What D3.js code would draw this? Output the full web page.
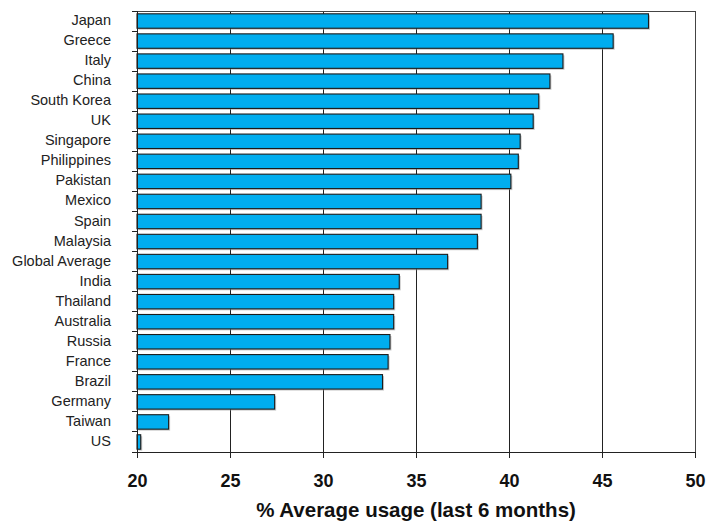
<!DOCTYPE html>
<html>
<head>
<meta charset="utf-8">
<script src="https://cdn.jsdelivr.net/npm/d3@7"></script>
<style>
  html, body { margin: 0; padding: 0; background: #fff; }
  svg { display: block; }
  .cat text { font-family: "Liberation Sans", Arial, sans-serif; font-size: 14.5px; fill: #222; }
  .xax text { font-family: "Liberation Sans", Arial, sans-serif; font-size: 18px; font-weight: bold; fill: #111; }
</style>
</head>
<body>
<svg id="chart" width="706" height="521"></svg>
<script>
// Countries, top to bottom
const countries = [
  "Japan", "Greece", "Italy", "China", "South Korea", "UK", "Singapore",
  "Philippines", "Pakistan", "Mexico", "Spain", "Malaysia", "Global Average",
  "India", "Thailand", "Australia", "Russia", "France", "Brazil", "Germany",
  "Taiwan", "US"
];
// % average usage over the last 6 months
const usage = [
  47.5, 45.6, 42.9, 42.2, 41.6, 41.3, 40.6,
  40.5, 40.1, 38.5, 38.5, 38.3, 36.7,
  34.1, 33.8, 33.8, 33.6, 33.5, 33.2, 27.4,
  21.7, 20.2
];
const xTicks = [20, 25, 30, 35, 40, 45, 50];
const xTitle = "% Average usage (last 6 months)";

const rows = countries.map((c, i) => ({ country: c, value: usage[i] }));

const W = 706, H = 521;
const margin = { top: 11, right: 11, bottom: 69, left: 137 };
const svg = d3.select("#chart");

const x = d3.scaleLinear()
  .domain([20, 50])
  .range([margin.left, W - margin.right]);

const y = d3.scaleBand()
  .domain(countries)
  .range([margin.top, H - margin.bottom])
  .paddingInner(0.28)
  .paddingOuter(0.14);

const plotTop = margin.top, plotBottom = H - margin.bottom;

// vertical gridlines
svg.append("g")
  .selectAll("line")
  .data(xTicks.slice(1, -1))
  .join("line")
  .attr("x1", d => x(d)).attr("x2", d => x(d))
  .attr("y1", plotTop).attr("y2", plotBottom)
  .attr("stroke", "#222").attr("stroke-width", 1)
  .attr("shape-rendering", "crispEdges");

// frame: top and right edges
svg.append("path")
  .attr("d", `M${x(20)},${plotTop}H${x(50)}V${plotBottom}`)
  .attr("fill", "none")
  .attr("stroke", "#444")
  .attr("stroke-width", 1)
  .attr("shape-rendering", "crispEdges");

// bar shadows
svg.append("g")
  .selectAll("rect")
  .data(rows)
  .join("rect")
  .attr("x", x(20) + 1.5)
  .attr("y", d => y(d.country) + 1.5)
  .attr("width", d => x(d.value) - x(20))
  .attr("height", y.bandwidth())
  .attr("fill", "#9a9a9a")
  .attr("opacity", 0.55);

// bars
svg.append("g")
  .selectAll("rect")
  .data(rows)
  .join("rect")
  .attr("x", x(20))
  .attr("y", d => y(d.country))
  .attr("width", d => x(d.value) - x(20))
  .attr("height", y.bandwidth())
  .attr("fill", "#00adef")
  .attr("stroke", "#1b1b1b")
  .attr("stroke-width", 1.1);

// category axis: labels centred on bands, ticks on band boundaries
const yAxis = svg.append("g")
  .attr("class", "cat")
  .attr("transform", `translate(${x(20)},0)`)
  .call(d3.axisLeft(y).tickSize(0).tickPadding(26));
yAxis.select(".domain").remove();
yAxis.selectAll(".tick text").attr("dy", "0.28em");

const step = y.step();
const bounds = d3.range(countries.length + 1).map(i => plotTop + i * step);
svg.append("g")
  .selectAll("line")
  .data(bounds)
  .join("line")
  .attr("x1", x(20) - 5).attr("x2", x(20))
  .attr("y1", d => d).attr("y2", d => d)
  .attr("stroke", "#222")
  .attr("shape-rendering", "crispEdges");
svg.append("line")
  .attr("x1", x(20)).attr("x2", x(20))
  .attr("y1", plotTop).attr("y2", plotBottom)
  .attr("stroke", "#222")
  .attr("shape-rendering", "crispEdges");

// value axis
const xAxis = svg.append("g")
  .attr("class", "xax")
  .attr("transform", `translate(0,${plotBottom})`)
  .call(d3.axisBottom(x).tickValues(xTicks).tickSize(6).tickPadding(16).tickFormat(d3.format("d")));
xAxis.select(".domain").attr("stroke", "#222").attr("shape-rendering", "crispEdges");
xAxis.selectAll(".tick line").attr("stroke", "#222").attr("shape-rendering", "crispEdges");

// axis title
svg.append("text")
  .attr("x", (x(20) + x(50)) / 2)
  .attr("y", 517)
  .attr("text-anchor", "middle")
  .attr("font-family", "'Liberation Sans', Arial, sans-serif")
  .attr("font-size", 20.5)
  .attr("font-weight", "bold")
  .attr("fill", "#111")
  .text(xTitle);
</script>
</body>
</html>
